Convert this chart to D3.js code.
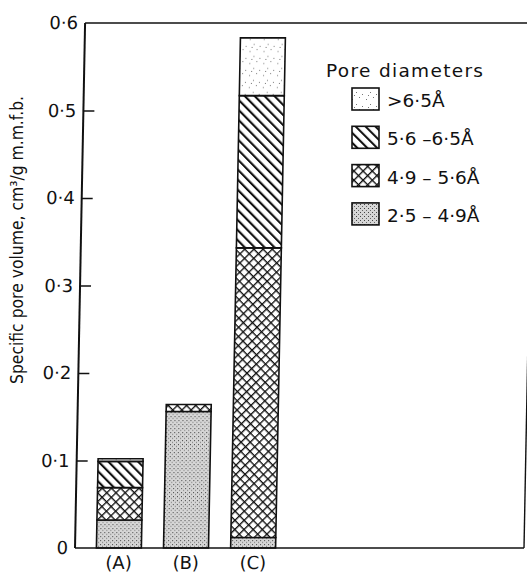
<!DOCTYPE html>
<html>
<head>
<meta charset="utf-8">
<script src="https://cdn.jsdelivr.net/npm/d3@7/dist/d3.min.js"></script>
<style>
  body { margin: 0; background: #fff; }
  text { font-family: "DejaVu Sans", sans-serif; fill: #111; }
</style>
</head>
<body>
<div id="canvas"></div>
<script>
// samples and pore size classes
const categories = ["A", "B", "C"];
const classes = ["r2549", "r4956", "r5665", "r65"];      // stacked bottom -> top
const legendLabels = [">6·5Å", "5·6 –6·5Å", "4·9 – 5·6Å", "2·5 – 4·9Å"];
const legendClasses = ["r65", "r5665", "r4956", "r2549"];
// specific pore volume, cm3/g m.m.f.b.
const r2549 = [0.032, 0.156, 0.012];
const r4956 = [0.037, 0.008, 0.331];
const r5665 = [0.030, 0.000, 0.174];
const r65   = [0.003, 0.000, 0.066];
const yTicks = [0, 0.1, 0.2, 0.3, 0.4, 0.5, 0.6];

const W = 527, H = 576;
const svg = d3.select("#canvas").append("svg")
    .attr("width", W).attr("height", H);

// patterns
const defs = svg.append("defs");
// fine grey stipple
const p1 = defs.append("pattern").attr("id", "r2549").attr("patternUnits", "userSpaceOnUse")
    .attr("width", 4).attr("height", 4);
p1.append("rect").attr("width", 4).attr("height", 4).attr("fill", "#d6d6d6");
p1.append("rect").attr("x", 0).attr("y", 0).attr("width", 1).attr("height", 1).attr("fill", "#444");
p1.append("rect").attr("x", 2).attr("y", 2).attr("width", 1).attr("height", 1).attr("fill", "#666");
// crosshatch
const p2 = defs.append("pattern").attr("id", "r4956").attr("patternUnits", "userSpaceOnUse")
    .attr("width", 6.5).attr("height", 6.5).attr("patternTransform", "rotate(45)");
p2.append("rect").attr("width", 6.5).attr("height", 6.5).attr("fill", "#fff");
p2.append("line").attr("x1", 0).attr("y1", 0).attr("x2", 0).attr("y2", 6.5)
    .attr("stroke", "#111").attr("stroke-width", 2.7);
p2.append("line").attr("x1", 0).attr("y1", 0).attr("x2", 6.5).attr("y2", 0)
    .attr("stroke", "#111").attr("stroke-width", 2.7);
// diagonal "\"
const p3 = defs.append("pattern").attr("id", "r5665").attr("patternUnits", "userSpaceOnUse")
    .attr("width", 7).attr("height", 7).attr("patternTransform", "rotate(-45)");
p3.append("rect").attr("width", 7).attr("height", 7).attr("fill", "#fff");
p3.append("line").attr("x1", 1).attr("y1", 0).attr("x2", 1).attr("y2", 7)
    .attr("stroke", "#111").attr("stroke-width", 2.2);
// sparse dots
const p4 = defs.append("pattern").attr("id", "r65").attr("patternUnits", "userSpaceOnUse")
    .attr("width", 14).attr("height", 12);
p4.append("rect").attr("width", 14).attr("height", 12).attr("fill", "#fff");
[[2, 3], [9, 1], [6, 8], [12, 10], [4, 11]].forEach(function(d) {
    p4.append("rect").attr("x", d[0]).attr("y", d[1]).attr("width", 1).attr("height", 1).attr("fill", "#777");
});

// scanned page is slightly skewed; pivot on the baseline
const base = 548;
const g = svg.append("g")
    .attr("transform", `translate(0,${base}) skewX(-1.1) translate(0,${-base})`);

const y = d3.scaleLinear().domain([0, 0.6]).range([base, 23]);
const x = d3.scaleBand().domain(categories).range([85, 287])
    .paddingInner(0.33).paddingOuter(0.17);

const table = categories.map(function(c, i) {
    return {cat: c, r2549: r2549[i], r4956: r4956[i], r5665: r5665[i], r65: r65[i]};
});
const series = d3.stack().keys(classes)(table);

series.forEach(function(s) {
    g.selectAll(".seg-" + s.key)
        .data(s.filter(function(d) { return d[1] > d[0]; }))
        .join("rect")
        .attr("x", function(d) { return x(d.data.cat); })
        .attr("y", function(d) { return y(d[1]); })
        .attr("width", x.bandwidth())
        .attr("height", function(d) { return y(d[0]) - y(d[1]); })
        .attr("fill", "url(#" + s.key + ")")
        .attr("stroke", "#111")
        .attr("stroke-width", 1.6);
});

// frame
g.append("line").attr("x1", 75).attr("x2", 75).attr("y1", y(0.6)).attr("y2", y(0))
    .attr("stroke", "#111").attr("stroke-width", 2);
g.append("line").attr("x1", 75).attr("x2", 540).attr("y1", y(0.6)).attr("y2", y(0.6))
    .attr("stroke", "#111").attr("stroke-width", 1.5);
g.append("line").attr("x1", 75).attr("x2", 524).attr("y1", y(0)).attr("y2", y(0))
    .attr("stroke", "#111").attr("stroke-width", 1.6);
g.append("line").attr("x1", 524).attr("x2", 524).attr("y1", y(0.3)).attr("y2", y(0))
    .attr("stroke", "#111").attr("stroke-width", 1.4);

// y axis
const yAxis = g.append("g").attr("transform", "translate(75,0)")
    .call(d3.axisLeft(y).tickValues(yTicks).tickSize(-11).tickSizeOuter(0).tickPadding(7)
        .tickFormat(function(d) { return d === 0 ? "0" : d3.format(".1f")(d).replace(".", "·"); }));
yAxis.select(".domain").remove();
yAxis.selectAll(".tick line").attr("stroke", "#111").attr("stroke-width", 1.6);
yAxis.selectAll(".tick text").style("font-size", "18px").attr("fill", "#111");
yAxis.selectAll(".tick").filter(function(d) { return d === 0 || d === 0.6; }).select("line").remove();

// x axis labels
const xAxis = g.append("g").attr("transform", `translate(0,${base})`)
    .call(d3.axisBottom(x).tickSize(0).tickPadding(8)
        .tickFormat(function(d) { return "(" + d + ")"; }));
xAxis.select(".domain").remove();
xAxis.selectAll(".tick text").style("font-size", "18px").attr("fill", "#111");

// axis title
svg.append("text")
    .attr("transform", "translate(23,240) rotate(-90)")
    .attr("text-anchor", "middle")
    .attr("textLength", 288).attr("lengthAdjust", "spacingAndGlyphs")
    .style("font-size", "17.5px")
    .text("Specific pore volume, cm³/g m.m.f.b.");

// legend
const legend = svg.append("g");
legend.append("text").attr("x", 326).attr("y", 77).style("font-size", "18.5px")
    .attr("textLength", 157).attr("lengthAdjust", "spacing")
    .text("Pore diameters");
legendClasses.forEach(function(k, i) {
    legend.append("rect")
        .attr("x", 352).attr("y", 88 + i * 38.3)
        .attr("width", 27).attr("height", 22)
        .attr("fill", "url(#" + k + ")")
        .attr("stroke", "#111").attr("stroke-width", 1.6);
    legend.append("text")
        .attr("x", 387).attr("y", 107 + i * 38.3)
        .style("font-size", "18.5px")
        .text(legendLabels[i]);
});
</script>
</body>
</html>
